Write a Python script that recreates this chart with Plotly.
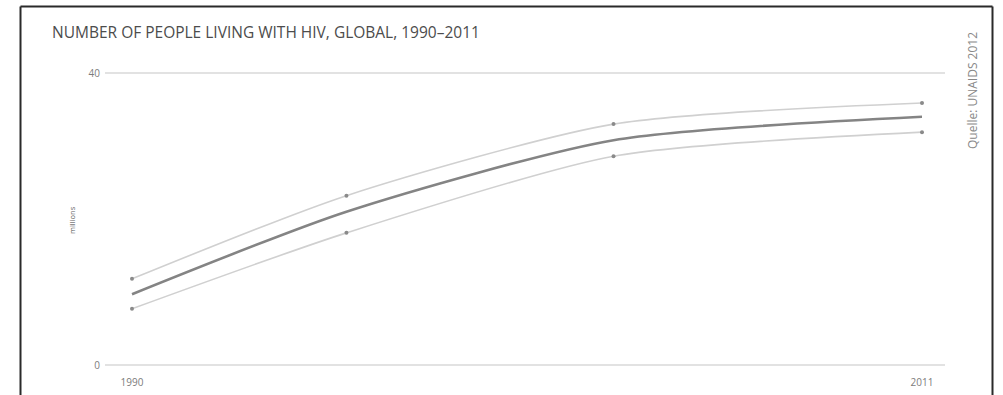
import plotly.graph_objects as go

# Estimates of people living with HIV worldwide (millions)
years = [1990, 1995.7, 2002.8, 2011]
central = [9.7, 21.0, 30.8, 34.0]
upper = [11.8, 23.2, 33.0, 35.9]
lower = [7.7, 18.1, 28.6, 31.9]

y_ticks = [0, 40]
x_ticks = [1990, 2011]

W, H = 1003, 395

fig = go.Figure()

for vals in (upper, lower):
    fig.add_trace(go.Scatter(
        x=years, y=vals, mode="lines+markers",
        line=dict(color="#d0d0d0", width=1.6, shape="spline", smoothing=0.7),
        marker=dict(color="#8a8a8a", size=4),
        cliponaxis=False, hoverinfo="skip",
    ))

fig.add_trace(go.Scatter(
    x=years, y=central, mode="lines",
    line=dict(color="#848484", width=2.6, shape="spline", smoothing=0.7),
    cliponaxis=False,
))

# plot area in pixels
px_left, px_right = 105, 945
px_top, px_bottom = 73, 365
yr_px = (922 - 132) / (2011 - 1990)
x0 = 1990 - (132 - px_left) / yr_px
x1 = 2011 + (px_right - 922) / yr_px

# pad the value range by one unit so the 0 and 40 grid lines are drawn
val_px = (px_bottom - px_top) / 40
pad = 1

tick_font = dict(family="Open Sans", size=10, color="#7c7c7c")

fig.update_layout(
    width=W, height=H,
    margin=dict(l=0, r=0, t=0, b=0),
    paper_bgcolor="white", plot_bgcolor="white",
    showlegend=False,
    xaxis=dict(
        domain=[px_left / W, px_right / W], range=[x0, x1],
        tickvals=x_ticks, ticktext=[str(v) for v in x_ticks],
        showgrid=False, zeroline=False, showline=False, ticks="",
        ticklabelstandoff=3, tickfont=tick_font,
    ),
    yaxis=dict(
        domain=[1 - (px_bottom + pad * val_px) / H, 1 - (px_top - pad * val_px) / H],
        range=[-pad, 40 + pad],
        tickvals=y_ticks, ticktext=[str(v) for v in y_ticks],
        showgrid=True, gridcolor="#e2e2e2", gridwidth=2,
        zeroline=False, showline=False, ticks="",
        ticklabelstandoff=4, tickfont=tick_font,
    ),
    font=dict(family="Open Sans"),
)

# outer frame
frame = dict(type="line", xref="paper", yref="paper",
             line=dict(color="#2a2a2a", width=2))
fig.add_shape(**frame, x0=20.5 / W, x1=20.5 / W, y0=-0.05, y1=1 - 6.5 / H)
fig.add_shape(**frame, x0=992.5 / W, x1=992.5 / W, y0=-0.05, y1=1 - 6.5 / H)
fig.add_shape(**frame, x0=20.5 / W, x1=992.5 / W, y0=1 - 6.5 / H, y1=1 - 6.5 / H)

fig.add_annotation(
    text="NUMBER OF PEOPLE LIVING WITH HIV, GLOBAL, 1990–2011",
    xref="paper", yref="paper", x=50 / W, y=1 - 32 / H,
    xanchor="left", yanchor="middle", showarrow=False,
    font=dict(family="Open Sans", size=15.5, color="#4c4c4c"),
)
fig.add_annotation(
    text="millions", textangle=-90,
    xref="paper", yref="paper", x=72 / W, y=1 - 220 / H,
    xanchor="center", yanchor="middle", showarrow=False,
    font=dict(family="Open Sans", size=7.5, color="#5a5a5a"),
)
fig.add_annotation(
    text="Quelle: UNAIDS 2012", textangle=-90,
    xref="paper", yref="paper", x=972 / W, y=1 - 91 / H,
    xanchor="center", yanchor="middle", showarrow=False,
    font=dict(family="Open Sans", size=12, color="#888888"),
)

fig.write_html(
    "out.html",
    post_script="document.body.style.margin='0';document.body.style.overflow='hidden';",
)
